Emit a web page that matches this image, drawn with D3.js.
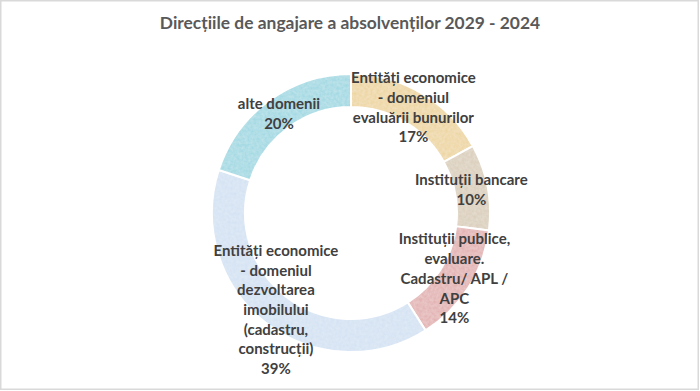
<!DOCTYPE html>
<html>
<head>
<meta charset="utf-8">
<script src="https://cdn.jsdelivr.net/npm/d3@7"></script>
<style>
  html, body { margin: 0; padding: 0; background: #fff; }
  svg { display: block; }
</style>
</head>
<body>
<svg id="chart" width="700" height="391"></svg>
<script>
// ---- data ----
const title = "Direcțiile de angajare a absolvenților 2029 - 2024";
const categories = [
  "Entități economice - domeniul evaluării bunurilor",
  "Instituții bancare",
  "Instituții publice, evaluare. Cadastru/ APL / APC",
  "Entități economice - domeniul dezvoltarea imobilului (cadastru, construcții)",
  "alte domenii"
];
const labelLines = [
  ["Entități economice", "- domeniul", "evaluării bunurilor"],
  ["Instituții bancare"],
  ["Instituții publice,", "evaluare.", "Cadastru/ APL /", "APC"],
  ["Entități economice", "- domeniul", "dezvoltarea", "imobilului", "(cadastru,", "construcții)"],
  ["alte domenii"]
];
const values = [17, 10, 14, 39, 20];
const colors = ["#EED6A2", "#DBCFBC", "#E3B2B2", "#D4E2F3", "#A2D9E3"];

// ---- layout ----
const W = 700, H = 391;
const cx = 351, cy = 213, rOuter = 139, rInner = 106;
const svg = d3.select("#chart");

svg.append("rect").attr("x", 0.75).attr("y", 0.75).attr("width", W - 2.5).attr("height", H - 2.5)
  .attr("fill", "#fff").attr("stroke", "#d9d9d9").attr("stroke-width", 1.5);

svg.append("text").attr("x", W / 2).attr("y", 29).attr("text-anchor", "middle")
  .attr("font-family", "Lato, 'Open Sans', sans-serif").attr("font-weight", 700)
  .attr("font-size", 17.4).attr("fill", "#595959").text(title);

// texture filter
const defs = svg.append("defs");
const f = defs.append("filter").attr("id", "tex").attr("x", 0).attr("y", 0).attr("width", 1).attr("height", 1);
f.append("feTurbulence").attr("type", "fractalNoise").attr("baseFrequency", 0.35).attr("numOctaves", 2).attr("seed", 3).attr("result", "noise");
f.append("feColorMatrix").attr("in", "noise").attr("type", "matrix")
  .attr("values", "0 0 0 0 1  0 0 0 0 1  0 0 0 0 1  0 0 0 0.35 -0.05").attr("result", "wn");
f.append("feComposite").attr("in", "wn").attr("in2", "SourceGraphic").attr("operator", "in").attr("result", "wn2");
f.append("feMerge").selectAll("feMergeNode").data(["SourceGraphic", "wn2"]).join("feMergeNode").attr("in", d => d);

const data = categories.map((c, i) => ({ name: c, value: values[i], lines: labelLines[i], color: colors[i] }));
const pie = d3.pie().value(d => d.value).sort(null).startAngle(0).endAngle(2 * Math.PI);
const arc = d3.arc().innerRadius(rInner).outerRadius(rOuter);
const arcs = pie(data);

const g = svg.append("g").attr("transform", `translate(${cx},${cy})`);
g.selectAll("path.slice").data(arcs).join("path").attr("class", "slice")
  .attr("d", arc).attr("fill", d => d.data.color).attr("filter", "url(#tex)")
  .attr("stroke", "#fff").attr("stroke-width", 2);

const lineH = 19.7;
const lab = g.selectAll("g.lab").data(arcs).join("g").attr("class", "lab")
  .attr("transform", d => { const c = arc.centroid(d); return `translate(${c[0]},${c[1]})`; });
lab.each(function(d) {
  const lines = d.data.lines.concat([d.data.value + "%"]);
  const t = d3.select(this).append("text").attr("text-anchor", "middle")
    .attr("font-family", "Lato, 'Open Sans', sans-serif").attr("font-weight", 700)
    .attr("font-size", 15).attr("fill", "#404040");
  const y0 = -(lines.length - 1) * lineH / 2;
  lines.forEach((s, i) => t.append("tspan").attr("x", 0).attr("y", y0 + i * lineH).attr("dy", "0.35em").text(s));
});
</script>
</body>
</html>
